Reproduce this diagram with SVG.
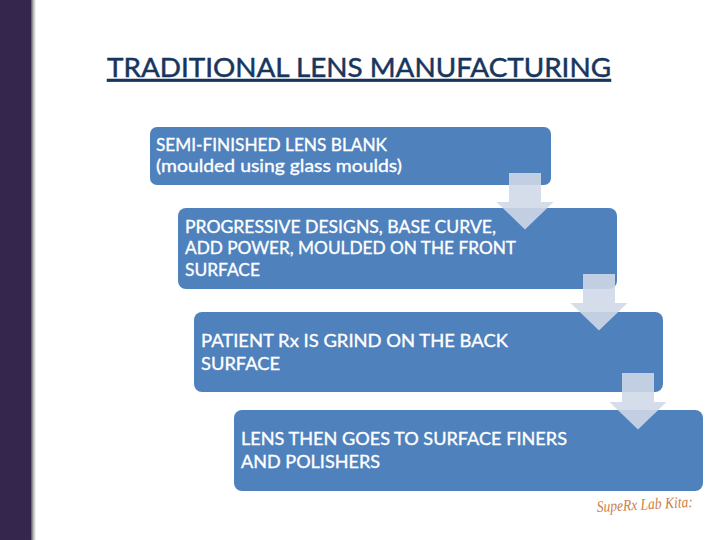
<svg xmlns="http://www.w3.org/2000/svg" width="720" height="540" viewBox="0 0 720 540">
<defs>
<linearGradient id="sh" x1="0" x2="1" y1="0" y2="0"><stop offset="0" stop-color="#555"/><stop offset="0.4" stop-color="#aaa"/><stop offset="1" stop-color="#fff"/></linearGradient>
<path id="arr" d="M-16 0H16V29H28.500L0 56.500L-28.500 29H-16Z"/>
</defs>
<style>
.b{fill:#4f81bd}
.t{font-family:Lato,"Liberation Sans",sans-serif;font-size:18px;fill:#fff;stroke:#fff;stroke-width:.35px}
.a{fill:#d1d9e7;fill-opacity:.89}
</style>
<rect width="720" height="540" fill="#fff"/>
<g id="band"><rect x="31" width="5" height="540" fill="url(#sh)"/><rect width="31" height="540" fill="#35264d"/></g>
<text id="title" x="107" y="77" font-family="Lato,'Liberation Sans',sans-serif" font-size="27.500px" fill="#17365d" stroke="#17365d" stroke-width=".5" text-decoration="underline" textLength="504" lengthAdjust="spacingAndGlyphs">TRADITIONAL LENS MANUFACTURING</text>
<g id="node1"><rect class="b" x="150" y="127" width="401" height="58" rx="7"/><text class="t" x="156" y="151" textLength="231" lengthAdjust="spacingAndGlyphs">SEMI-FINISHED LENS BLANK</text><text class="t" x="156" y="172" textLength="246" lengthAdjust="spacingAndGlyphs">(moulded using glass moulds)</text></g>
<g id="node2"><rect class="b" x="178" y="208" width="439" height="81" rx="8"/><text class="t" x="185" y="233" textLength="311" lengthAdjust="spacingAndGlyphs">PROGRESSIVE DESIGNS, BASE CURVE,</text><text class="t" x="185" y="254" textLength="331" lengthAdjust="spacingAndGlyphs">ADD POWER, MOULDED ON THE FRONT</text><text class="t" x="185" y="276" textLength="75" lengthAdjust="spacingAndGlyphs">SURFACE</text></g>
<g id="node3"><rect class="b" x="194" y="312" width="469" height="80" rx="8"/><text class="t" x="201" y="347" textLength="307" lengthAdjust="spacingAndGlyphs">PATIENT Rx IS GRIND ON THE BACK</text><text class="t" x="201" y="370" textLength="79" lengthAdjust="spacingAndGlyphs">SURFACE</text></g>
<g id="node4"><rect class="b" x="234" y="410" width="469" height="81" rx="8"/><text class="t" x="241" y="445" textLength="326" lengthAdjust="spacingAndGlyphs">LENS THEN GOES TO SURFACE FINERS</text><text class="t" x="241" y="468" textLength="139" lengthAdjust="spacingAndGlyphs">AND POLISHERS</text></g>
<g id="connectors">
<use href="#arr" class="a" x="525" y="173"/>
<use href="#arr" class="a" x="599" y="274"/>
<use href="#arr" class="a" x="638" y="373"/>
</g>
<g id="logo"><text x="597" y="512" font-family="'Liberation Serif',serif" font-style="italic" font-size="16px" fill="#cc8048" textLength="96" lengthAdjust="spacingAndGlyphs" transform="rotate(-3 597 512)">SupeRx Lab Kita:</text></g>
</svg>
